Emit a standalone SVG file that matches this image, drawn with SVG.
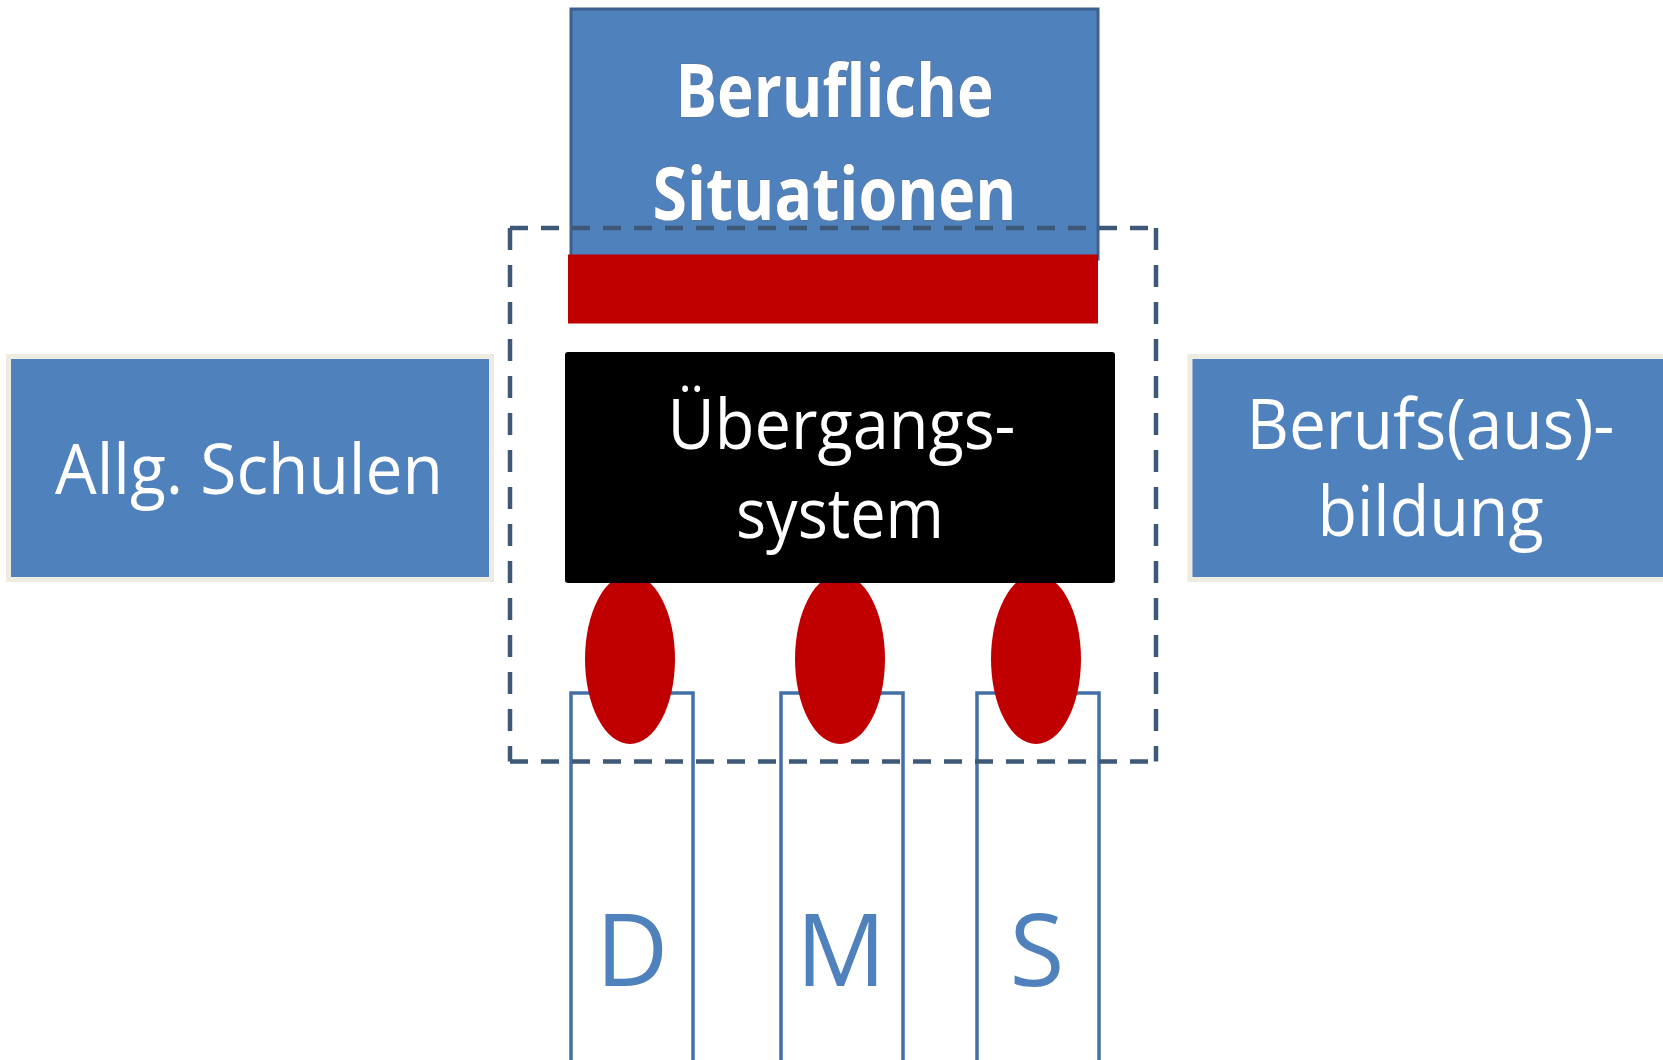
<svg xmlns="http://www.w3.org/2000/svg" width="1663" height="1060" viewBox="0 0 1663 1060">
<style>
.blue{fill:#4F81BD}
.side{fill:#4F81BD;stroke:#EEECE1;stroke-width:5}
.lbl{font-family:"Open Sans","Liberation Sans",sans-serif;font-size:70px;fill:#ffffff;text-anchor:middle}
.bold{font-family:"Open Sans","Liberation Sans",sans-serif;font-size:74px;font-weight:700;fill:#ffffff;text-anchor:middle;stroke:#5A6F8C;stroke-width:0.8;paint-order:stroke}
.col{fill:#ffffff;stroke:#4470A8;stroke-width:3.5}
.letter{font-family:"Open Sans","Liberation Sans",sans-serif;font-size:100px;fill:#4F81BD;text-anchor:middle}
.red{fill:#C00000}
.dash{fill:none;stroke:#3E5878;stroke-width:4.5}
</style>
<rect width="1663" height="1060" fill="#ffffff"/>
<g id="berufliche-situationen">
<rect x="571" y="9" width="527" height="250" class="blue" stroke="#3D6090" stroke-width="3"/>
<text class="bold" x="834.5" y="117" textLength="318" lengthAdjust="spacingAndGlyphs">Berufliche</text>
<text class="bold" x="834.5" y="220" textLength="364" lengthAdjust="spacingAndGlyphs">Situationen</text>
</g>
<g id="red-bar">
<rect x="568" y="254.5" width="530" height="69" class="red"/>
</g>
<g id="allg-schulen">
<rect x="8.5" y="356.5" width="483" height="223" class="side"/>
<text class="lbl" x="249" y="494" textLength="388" lengthAdjust="spacingAndGlyphs">Allg. Schulen</text>
</g>
<g id="berufsausbildung">
<rect x="1190" y="356.5" width="490" height="223" class="side"/>
<text class="lbl" x="1430.5" y="449" textLength="368" lengthAdjust="spacingAndGlyphs">Berufs(aus)-</text>
<text class="lbl" x="1430.5" y="536" textLength="226" lengthAdjust="spacingAndGlyphs">bildung</text>
</g>
<g id="col-d">
<rect x="571" y="693" width="122" height="380" class="col"/>
<text class="letter" x="632" y="986">D</text>
</g>
<g id="col-m">
<rect x="781" y="693" width="122" height="380" class="col"/>
<text class="letter" x="841" y="986">M</text>
</g>
<g id="col-s">
<rect x="977" y="693" width="122" height="380" class="col"/>
<text class="letter" x="1037" y="986">S</text>
</g>
<g id="flames">
<ellipse cx="630" cy="659" rx="45" ry="85" class="red"/>
<ellipse cx="840" cy="659" rx="45" ry="85" class="red"/>
<ellipse cx="1036" cy="659" rx="45" ry="85" class="red"/>
</g>
<g id="uebergangssystem">
<rect x="565" y="352" width="550" height="231" rx="3" fill="#000000"/>
<text class="lbl" x="841.5" y="449" textLength="348" lengthAdjust="spacingAndGlyphs">Übergangs-</text>
<text class="lbl" x="840" y="538" textLength="208" lengthAdjust="spacingAndGlyphs">system</text>
</g>
<g id="connectors">
<path class="dash" d="M510 228 H1156 M510 761.5 H1156" stroke-dasharray="18 13"/>
<path class="dash" d="M510 228 V761.5 M1156 228 V761.5" stroke-dasharray="22 15"/>
</g>
</svg>
